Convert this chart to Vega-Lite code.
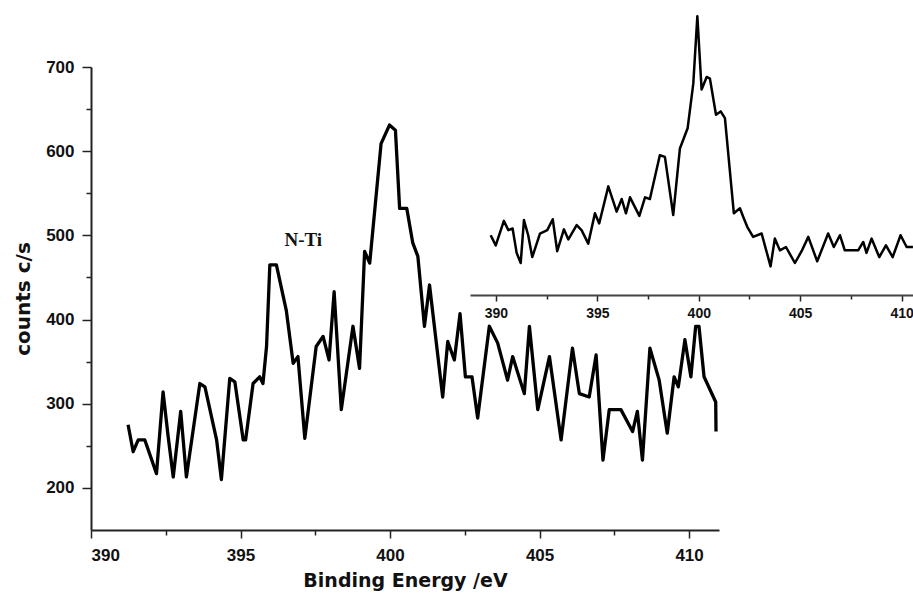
{
  "$schema": "https://vega.github.io/schema/vega-lite/v6.json",
  "autosize": "none",
  "width": 628,
  "height": 463,
  "padding": {"left": 91, "top": 67, "right": 194, "bottom": 63},
  "background": "white",
  "config": {
    "view": {"stroke": null},
    "axis": {"grid": false, "domainColor": "#222", "tickColor": "#222", "labelColor": "#111", "titleColor": "#111"}
  },
  "datasets": {
    "main": [
      {"energy": 391.24, "counts": 275}, {"energy": 391.41, "counts": 243}, {"energy": 391.58, "counts": 257},
      {"energy": 391.80, "counts": 257}, {"energy": 392.19, "counts": 217}, {"energy": 392.41, "counts": 314},
      {"energy": 392.58, "counts": 261}, {"energy": 392.75, "counts": 213}, {"energy": 393.00, "counts": 291},
      {"energy": 393.19, "counts": 213}, {"energy": 393.64, "counts": 324}, {"energy": 393.81, "counts": 320},
      {"energy": 394.20, "counts": 257}, {"energy": 394.36, "counts": 210}, {"energy": 394.64, "counts": 330},
      {"energy": 394.81, "counts": 326}, {"energy": 395.09, "counts": 257}, {"energy": 395.17, "counts": 257},
      {"energy": 395.42, "counts": 324}, {"energy": 395.64, "counts": 332}, {"energy": 395.75, "counts": 324},
      {"energy": 395.87, "counts": 368}, {"energy": 395.98, "counts": 465}, {"energy": 396.20, "counts": 465},
      {"energy": 396.53, "counts": 411}, {"energy": 396.76, "counts": 348}, {"energy": 396.92, "counts": 356},
      {"energy": 397.15, "counts": 259}, {"energy": 397.53, "counts": 368}, {"energy": 397.76, "counts": 380},
      {"energy": 397.96, "counts": 352}, {"energy": 398.13, "counts": 433}, {"energy": 398.37, "counts": 293},
      {"energy": 398.76, "counts": 392}, {"energy": 398.98, "counts": 342}, {"energy": 399.15, "counts": 481},
      {"energy": 399.32, "counts": 467}, {"energy": 399.70, "counts": 609}, {"energy": 399.98, "counts": 631},
      {"energy": 400.18, "counts": 625}, {"energy": 400.32, "counts": 532}, {"energy": 400.56, "counts": 532},
      {"energy": 400.76, "counts": 491}, {"energy": 400.93, "counts": 475}, {"energy": 401.15, "counts": 392},
      {"energy": 401.32, "counts": 441}, {"energy": 401.76, "counts": 308}, {"energy": 401.93, "counts": 374},
      {"energy": 402.15, "counts": 352}, {"energy": 402.34, "counts": 407}, {"energy": 402.52, "counts": 332},
      {"energy": 402.74, "counts": 332}, {"energy": 402.93, "counts": 283}, {"energy": 403.32, "counts": 392},
      {"energy": 403.60, "counts": 372}, {"energy": 403.93, "counts": 328}, {"energy": 404.10, "counts": 356},
      {"energy": 404.49, "counts": 312}, {"energy": 404.66, "counts": 392}, {"energy": 404.94, "counts": 293},
      {"energy": 405.33, "counts": 356}, {"energy": 405.72, "counts": 257}, {"energy": 406.10, "counts": 366},
      {"energy": 406.33, "counts": 312}, {"energy": 406.66, "counts": 308}, {"energy": 406.89, "counts": 358},
      {"energy": 407.12, "counts": 233}, {"energy": 407.33, "counts": 293}, {"energy": 407.72, "counts": 293},
      {"energy": 408.11, "counts": 267}, {"energy": 408.27, "counts": 291}, {"energy": 408.44, "counts": 233},
      {"energy": 408.69, "counts": 366}, {"energy": 409.00, "counts": 328}, {"energy": 409.27, "counts": 265},
      {"energy": 409.50, "counts": 332}, {"energy": 409.64, "counts": 320}, {"energy": 409.86, "counts": 376},
      {"energy": 410.06, "counts": 332}, {"energy": 410.22, "counts": 392}, {"energy": 410.33, "counts": 392},
      {"energy": 410.50, "counts": 332}, {"energy": 410.89, "counts": 302}, {"energy": 410.90, "counts": 267}
    ],
    "inset": [
      {"energy": 389.74, "counts": 371}, {"energy": 389.99, "counts": 359}, {"energy": 390.39, "counts": 388},
      {"energy": 390.61, "counts": 377}, {"energy": 390.82, "counts": 379}, {"energy": 391.02, "counts": 350},
      {"energy": 391.22, "counts": 338}, {"energy": 391.38, "counts": 389}, {"energy": 391.59, "counts": 371},
      {"energy": 391.79, "counts": 345}, {"energy": 392.17, "counts": 373}, {"energy": 392.53, "counts": 377},
      {"energy": 392.80, "counts": 390}, {"energy": 393.02, "counts": 352}, {"energy": 393.35, "counts": 378},
      {"energy": 393.57, "counts": 366}, {"energy": 393.98, "counts": 383}, {"energy": 394.22, "counts": 377},
      {"energy": 394.55, "counts": 361}, {"energy": 394.88, "counts": 397}, {"energy": 395.09, "counts": 385},
      {"energy": 395.54, "counts": 429}, {"energy": 395.95, "counts": 399}, {"energy": 396.20, "counts": 414},
      {"energy": 396.41, "counts": 397}, {"energy": 396.61, "counts": 416}, {"energy": 397.07, "counts": 394},
      {"energy": 397.35, "counts": 416}, {"energy": 397.59, "counts": 414}, {"energy": 398.08, "counts": 466},
      {"energy": 398.33, "counts": 464}, {"energy": 398.74, "counts": 395}, {"energy": 399.07, "counts": 474},
      {"energy": 399.45, "counts": 498}, {"energy": 399.73, "counts": 551}, {"energy": 399.93, "counts": 631},
      {"energy": 400.14, "counts": 544}, {"energy": 400.39, "counts": 559}, {"energy": 400.55, "counts": 557},
      {"energy": 400.85, "counts": 514}, {"energy": 401.08, "counts": 518}, {"energy": 401.29, "counts": 510},
      {"energy": 401.73, "counts": 397}, {"energy": 402.03, "counts": 403}, {"energy": 402.19, "counts": 393},
      {"energy": 402.39, "counts": 381}, {"energy": 402.68, "counts": 369}, {"energy": 403.10, "counts": 373},
      {"energy": 403.54, "counts": 334}, {"energy": 403.75, "counts": 367}, {"energy": 404.00, "counts": 353},
      {"energy": 404.30, "counts": 357}, {"energy": 404.74, "counts": 338}, {"energy": 405.07, "counts": 352},
      {"energy": 405.40, "counts": 369}, {"energy": 405.84, "counts": 340}, {"energy": 406.38, "counts": 373},
      {"energy": 406.66, "counts": 357}, {"energy": 406.96, "counts": 371}, {"energy": 407.20, "counts": 353},
      {"energy": 407.86, "counts": 353}, {"energy": 408.11, "counts": 363}, {"energy": 408.27, "counts": 350},
      {"energy": 408.52, "counts": 367}, {"energy": 408.90, "counts": 345}, {"energy": 409.23, "counts": 359},
      {"energy": 409.56, "counts": 345}, {"energy": 409.95, "counts": 371}, {"energy": 410.25, "counts": 357},
      {"energy": 410.56, "counts": 357}
    ]
  },
  "resolve": {
    "scale": {"x": "independent", "y": "independent"},
    "axis": {"x": "independent", "y": "independent"}
  },
  "layer": [
    {
      "data": {"name": "main"},
      "mark": {"type": "line", "color": "#000", "strokeWidth": 3.3, "strokeJoin": "round"},
      "encoding": {
        "x": {
          "field": "energy", "type": "quantitative",
          "scale": {"domain": [390, 411], "nice": false, "zero": false},
          "axis": {
            "title": "Binding Energy /eV",
            "values": [390, 392.5, 395, 397.5, 400, 402.5, 405, 407.5, 410],
            "labelExpr": "datum.value % 5 === 0 ? datum.label : ''",
            "tickSize": {"condition": {"test": "datum.value % 5 === 0", "value": 8}, "value": 5},
            "tickWidth": 1.5,
            "domainWidth": 2,
            "labelFont": "Liberation Sans", "labelFontWeight": "bold", "labelFontSize": 17, "labelPadding": 9,
            "titleFont": "DejaVu Sans", "titleFontWeight": "bold", "titleFontSize": 19, "titlePadding": 8
          }
        },
        "y": {
          "field": "counts", "type": "quantitative",
          "scale": {"domain": [150, 700], "nice": false, "zero": false},
          "axis": {
            "title": "counts c/s",
            "values": [200, 250, 300, 350, 400, 450, 500, 550, 600, 650, 700],
            "labelExpr": "datum.value % 100 === 0 ? datum.label : ''",
            "tickSize": {"condition": {"test": "datum.value % 100 === 0", "value": 9}, "value": 5},
            "tickWidth": 1.5,
            "domainWidth": 2,
            "labelFont": "Liberation Sans", "labelFontWeight": "bold", "labelFontSize": 17, "labelPadding": 8,
            "titleFont": "DejaVu Sans", "titleFontWeight": "bold", "titleFontSize": 20, "titlePadding": 12
          }
        }
      }
    },
    {
      "data": {"values": [{"energy": 397.1, "counts": 495, "label": "N-Ti"}]},
      "mark": {"type": "text", "font": "Liberation Serif", "fontWeight": "bold", "fontSize": 19, "color": "#111"},
      "encoding": {
        "x": {"field": "energy", "type": "quantitative", "scale": {"domain": [390, 411], "nice": false, "zero": false}, "axis": null},
        "y": {"field": "counts", "type": "quantitative", "scale": {"domain": [150, 700], "nice": false, "zero": false}, "axis": null},
        "text": {"field": "label"}
      }
    },
    {
      "data": {"name": "inset"},
      "mark": {"type": "line", "color": "#000", "strokeWidth": 2.5, "strokeJoin": "round"},
      "encoding": {
        "x": {
          "field": "energy", "type": "quantitative",
          "scale": {"domain": [388.72, 411.5], "range": [379, 841], "nice": false, "zero": false},
          "axis": {
            "orient": "bottom", "offset": -235, "title": null,
            "values": [390, 392.5, 395, 397.5, 400, 402.5, 405, 407.5, 410],
            "labelExpr": "datum.value % 5 === 0 ? datum.label : ''",
            "tickSize": {"condition": {"test": "datum.value % 5 === 0", "value": 6}, "value": 4},
            "tickWidth": 1.5,
            "domainWidth": 2, "domainColor": "#444",
            "labelFont": "Liberation Sans", "labelFontWeight": "bold", "labelFontSize": 14, "labelPadding": 5,
            "labelFlush": false
          }
        },
        "y": {
          "field": "counts", "type": "quantitative",
          "scale": {"domain": [300, 700], "range": [228, -108.8], "nice": false, "zero": false},
          "axis": null
        }
      }
    }
  ]
}
